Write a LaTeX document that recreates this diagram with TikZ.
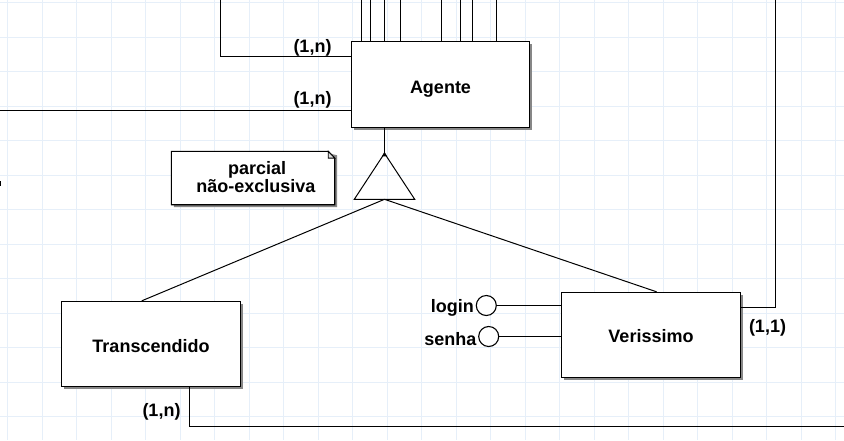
\documentclass[tikz,border=0pt]{standalone}
\usepackage{fontspec}
\setmainfont{Liberation Sans}
\usetikzlibrary{shadows}
\definecolor{gridc}{RGB}{230,239,249}
\definecolor{shadowc}{RGB}{135,135,135}
\begin{document}
\begin{tikzpicture}[x=1pt,y=-1pt,
  conn/.style={line width=1pt},
  entity/.style={draw, line width=1.3pt, fill=white, inner sep=0pt,
    drop shadow={shadow xshift=2.5pt, shadow yshift=-2.5pt, fill=shadowc, opacity=1}},
  etext/.style={font=\bfseries\fontsize{18}{21}\selectfont, inner sep=0pt},
  card/.style={font=\bfseries\fontsize{18}{21}\selectfont, inner sep=0pt, anchor=base},
  attr/.style={draw, circle, line width=1.1pt, fill=white, minimum size=20pt, inner sep=0pt}]
\useasboundingbox (0,0) rectangle (844,440);
\fill[white] (0,0) rectangle (844,440);
% grid
\foreach \i in {0,...,24} \draw[gridc, line width=0.8pt] ({7.5+34.5*\i},0) -- ({7.5+34.5*\i},440);
\foreach \j in {0,...,12} \draw[gridc, line width=0.8pt] (0,{2.5+34.5*\j}) -- (844,{2.5+34.5*\j});

% entities
\node[entity, minimum width=178pt, minimum height=86pt] (ag) at (440.5,84.5) {};
\node[entity, minimum width=179pt, minimum height=85pt] (tr) at (151,344) {};
\node[entity, minimum width=179pt, minimum height=85pt] (ve) at (651,335) {};
\node[etext, anchor=base] at ([yshift=-8.5pt]ag.center) {Agente};
\node[etext, anchor=base] at ([yshift=-8.3pt]tr.center) {Transcendido};
\node[etext, anchor=base] at ([yshift=-7.7pt]ve.center) {Verissimo};

% lines on top of Agente
\foreach \x in {361.5,370.5,384.5,400.5,441.5,460.5,472.5,496.5}
  \draw[conn] (\x,0) -- (\x,0 |- ag.north);

% left connections
\coordinate (L1) at (220.5,0);
\draw[conn] (L1) |- ([yshift=28pt]ag.west);
\coordinate (L2) at (0,110.5);
\draw[conn] (L2) -- (L2 -| ag.west);
\node[card] at (312.5,52) {(1,n)};
\node[card] at (312.5,104) {(1,n)};

% specialization triangle
\coordinate (apex) at (384.5,153.3);
\coordinate (tbl) at (354.3,199.3);
\coordinate (tbr) at (414.7,199.3);
\coordinate (tbm) at (384.5,199.3);
\draw[conn] (apex |- ag.south) -- (apex);
\draw[conn, line join=miter] (apex) -- (tbr) -- (tbl) -- cycle;
\fill (apex) ++(0,-1.5) -- ++(2.5,4.5) -- ++(-5,0) -- cycle;
\draw[conn] (tbm) -- (141.7,0 |- tr.north);
\draw[conn] (tbm) -- (656.7,0 |- ve.north);

% note
\node[minimum width=163pt, minimum height=53pt, inner sep=0pt] (nt) at (253,178) {};
\fill[shadowc] ([shift={(2.5,2.5)}]nt.north west) -- ([shift={(-4,2.5)}]nt.north east) -- ([shift={(2.5,4)}]nt.north east) -- ([shift={(2.5,2.5)}]nt.south east) -- ([shift={(2.5,2.5)}]nt.south west) -- cycle;
\draw[line width=1.1pt, fill=white] (nt.north west) -- ([xshift=-6.5pt]nt.north east) -- ([yshift=-6.8pt]nt.north east) -- (nt.south east) -- (nt.south west) -- cycle;
\draw[line width=0.9pt, fill=gray!25] ([xshift=-6.5pt]nt.north east) -- ([xshift=-6.5pt,yshift=-6.8pt]nt.north east) -- ([yshift=-6.8pt]nt.north east) -- cycle;
\node[card] at (257.2,174.3) {parcial};
\node[card] at (255.8,192.3) {não-exclusiva};

% attributes of Verissimo
\node[attr] (lg) at (486.3,305.5) {};
\node[attr] (sn) at (488.7,336.5) {};
\draw[conn] (lg.east) -- (lg.east -| ve.west);
\draw[conn] (sn.east) -- (sn.east -| ve.west);
\node[card, anchor=base east] at (474,312.7) {login};
\node[card, anchor=base east] at (476.5,345) {senha};

% right connection of Verissimo
\coordinate (R2) at (775.5,0);
\draw[conn] (ve.east |- 0,307.5) -| (R2);
\node[card] at (767.5,332) {(1,1)};

% bottom connection of Transcendido
\coordinate (R1) at (844,426.5);
\draw[conn] (189.5,0 |- tr.south) |- (R1);
\node[card] at (161.5,416) {(1,n)};

% small mark at left edge
\fill (0,181) rectangle (1.2,186);
\end{tikzpicture}
\end{document}
